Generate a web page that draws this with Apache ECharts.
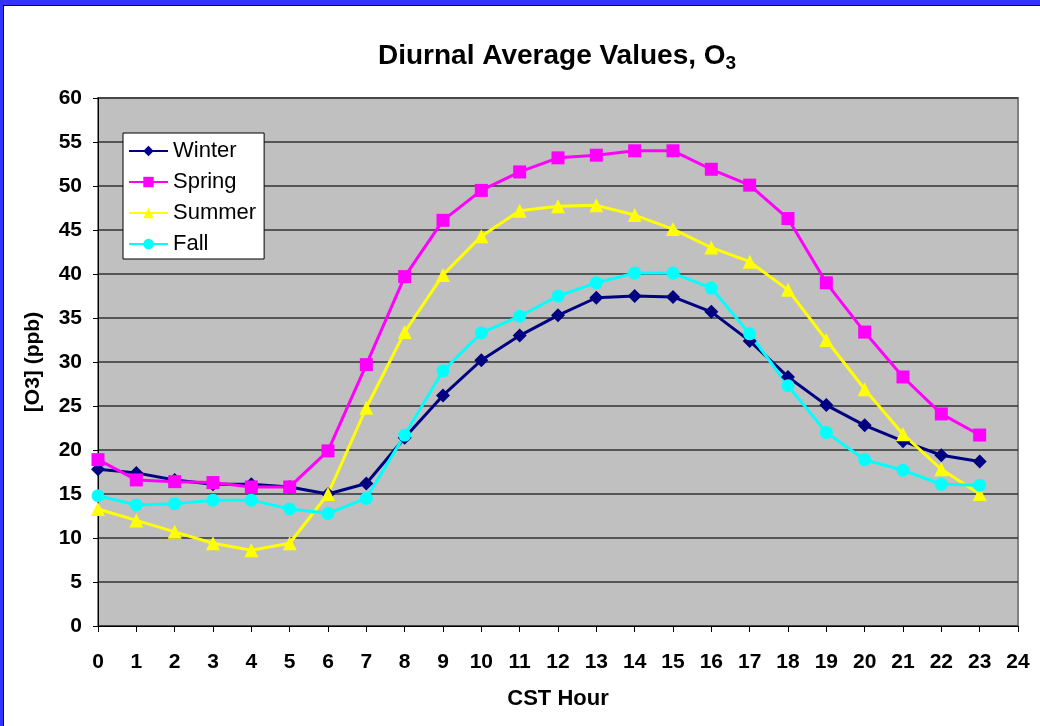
<!DOCTYPE html>
<html>
<head>
<meta charset="utf-8">
<script src="https://cdn.jsdelivr.net/npm/echarts@6/dist/echarts.min.js"></script>
<style>
  html, body { margin: 0; padding: 0; background: #fff; }
  #wrap { width: 1040px; height: 726px; position: relative; box-sizing: border-box;
          border-top: 5px solid #3333ff; border-left: 3px solid #3333ff; }
  #inner { position: absolute; left: 0; top: 0; right: 0; bottom: 0; border-top: 1px solid #000; border-left: 1px solid #000; }
  #main { position: absolute; left: -3px; top: -5px; width: 1040px; height: 726px; }
</style>
</head>
<body>
<div id="wrap"><div id="inner"></div><div id="main"></div></div>
<script>
// hours 0..23 (CST)
var hours = [0,1,2,3,4,5,6,7,8,9,10,11,12,13,14,15,16,17,18,19,20,21,22,23];
// diurnal average O3 (ppb) by season
var winter = [17.8,17.4,16.6,16.1,16.1,15.8,15.0,16.2,21.4,26.2,30.2,33.0,35.3,37.3,37.5,37.4,35.7,32.4,28.3,25.1,22.8,21.0,19.4,18.7];
var spring = [18.9,16.6,16.4,16.3,15.8,15.8,19.9,29.7,39.7,46.1,49.5,51.6,53.2,53.5,54.0,54.0,51.9,50.1,46.3,39.0,33.4,28.3,24.1,21.7];
var summer = [13.3,12.0,10.7,9.4,8.6,9.4,15.0,24.8,33.4,39.9,44.3,47.2,47.7,47.8,46.7,45.1,43.0,41.4,38.2,32.5,26.9,21.8,17.8,15.0];
var fall   = [14.8,13.75,13.9,14.3,14.3,13.3,12.8,14.5,21.7,29.0,33.3,35.2,37.5,39.0,40.1,40.1,38.4,33.2,27.3,22.0,18.9,17.7,16.1,16.0];

function pairs(vals) {
  return hours.map(function (h, i) { return [h, vals[i]]; });
}

var myChart = echarts.init(document.getElementById('main'));
var font = 'Arial, "Liberation Sans", sans-serif';

function mkSeries(name, vals, color, symbol, size) {
  return {
    name: name,
    type: 'line',
    data: pairs(vals),
    symbol: symbol,
    symbolSize: size,
    lineStyle: { color: color, width: 3 },
    itemStyle: { color: color },
    animation: false
  };
}

var option = {
  backgroundColor: 'transparent',
  title: {
    text: 'Diurnal Average Values, O{sub|3}',
    left: 373,
    top: 35,
    textStyle: {
      fontFamily: font, fontSize: 28, fontWeight: 'bold', color: '#000',
      rich: { sub: { fontFamily: font, fontSize: 19, fontWeight: 'bold', verticalAlign: 'bottom', padding: [14, 0, 0, 0] } }
    }
  },
  legend: {
    orient: 'vertical',
    left: 123,
    top: 133,
    padding: [7, 8, 4, 5],
    itemGap: 9,
    itemWidth: 39,
    itemHeight: 13,
    backgroundColor: '#fff',
    borderColor: '#000',
    borderWidth: 1,
    borderRadius: 0,
    textStyle: { fontFamily: font, fontSize: 22, color: '#000' },
    data: ['Winter', 'Spring', 'Summer', 'Fall']
  },
  grid: {
    left: 98, right: 22, top: 98, bottom: 100,
    show: true, backgroundColor: '#c0c0c0', borderColor: '#808080', borderWidth: 2
  },
  xAxis: {
    type: 'value',
    min: 0, max: 24, interval: 1,
    name: 'CST Hour',
    nameLocation: 'middle',
    nameGap: 62,
    nameTextStyle: { fontFamily: font, fontSize: 22, fontWeight: 'bold', color: '#000' },
    axisLine: { show: true, lineStyle: { color: '#000', width: 1 } },
    axisTick: { show: true, inside: false, length: 6, lineStyle: { color: '#000' } },
    axisLabel: { margin: 26, fontFamily: font, fontSize: 21, fontWeight: 'bold', color: '#000' },
    splitLine: { show: false }
  },
  yAxis: {
    type: 'value',
    min: 0, max: 60, interval: 5,
    name: '[O3] (ppb)',
    nameLocation: 'middle',
    nameRotate: 90,
    nameGap: 54,
    nameTextStyle: { fontFamily: font, fontSize: 21, fontWeight: 'bold', color: '#000' },
    axisLine: { show: true, lineStyle: { color: '#000', width: 1 } },
    axisTick: { show: true, inside: false, length: 5, lineStyle: { color: '#000' } },
    axisLabel: { margin: 16, fontFamily: font, fontSize: 21, fontWeight: 'bold', color: '#000' },
    splitLine: { show: true, lineStyle: { color: '#333', width: 1.5 } }
  },
  series: [
    mkSeries('Winter', winter, '#000080', 'diamond', 14),
    mkSeries('Spring', spring, '#ff00ff', 'rect', 13),
    mkSeries('Summer', summer, '#ffff00', 'triangle', 14),
    mkSeries('Fall', fall, '#00ffff', 'circle', 13)
  ]
};

myChart.setOption(option);
</script>
</body>
</html>
